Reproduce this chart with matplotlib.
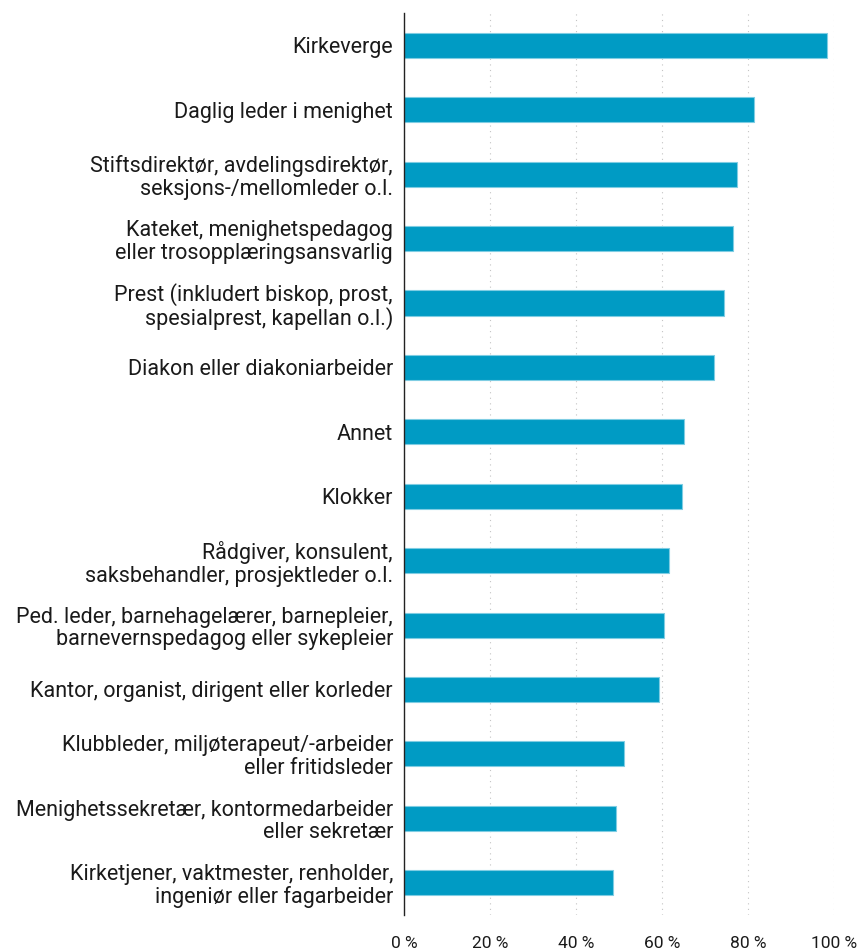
import matplotlib
matplotlib.use("Agg")
import matplotlib.pyplot as plt

# Andel per stillingsgruppe (prosent)
categories = [
    "Kirkeverge",
    "Daglig leder i menighet",
    "Stiftsdirektør, avdelingsdirektør,\nseksjons-/mellomleder o.l.",
    "Kateket, menighetspedagog\neller trosopplæringsansvarlig",
    "Prest (inkludert biskop, prost,\nspesialprest, kapellan o.l.)",
    "Diakon eller diakoniarbeider",
    "Annet",
    "Klokker",
    "Rådgiver, konsulent,\nsaksbehandler, prosjektleder o.l.",
    "Ped. leder, barnehagelærer, barnepleier,\nbarnevernspedagog eller sykepleier",
    "Kantor, organist, dirigent eller korleder",
    "Klubbleder, miljøterapeut/-arbeider\neller fritidsleder",
    "Menighetssekretær, kontormedarbeider\neller sekretær",
    "Kirketjener, vaktmester, renholder,\ningeniør eller fagarbeider",
]
values = [98.3, 81.5, 77.4, 76.5, 74.4, 72.1, 65.1, 64.7, 61.6, 60.5, 59.2, 51.2, 49.2, 48.7]
ticks = [0, 20, 40, 60, 80, 100]
tick_labels = ["0 %", "20 %", "40 %", "60 %", "80 %", "100 %"]

plt.rcParams["font.family"] = ["Roboto", "DejaVu Sans"]

fig = plt.figure(figsize=(8.6, 9.52), dpi=100)
ax = fig.add_axes([0.4698, 0.0389, 0.5, 0.9474])

y = list(range(len(categories)))
ax.barh(y, values, height=0.39, color="#009BC4", edgecolor="#7FCDE3", linewidth=0.8, zorder=3)

ax.set_ylim(len(categories) - 0.5, -0.5)
ax.set_xlim(0, 100)
ax.set_yticks(y)
ax.set_yticklabels(categories, fontsize=15.5, color="#1a1a1a", linespacing=1.1)
ax.set_xticks(ticks)
ax.set_xticklabels(tick_labels, fontsize=12.5, color="#1a1a1a")
ax.tick_params(axis="y", length=0, pad=8)
ax.tick_params(axis="x", length=0, pad=15)

ax.grid(axis="x", linestyle=(0, (1, 4)), color="#c4c4c4", linewidth=0.8, zorder=0)
for s in ["top", "right", "bottom"]:
    ax.spines[s].set_visible(False)
ax.spines["left"].set_color("#222222")
ax.spines["left"].set_linewidth(1.0)
ax.spines["left"].set_zorder(4)

fig.savefig("out.png", dpi=100, facecolor="white")
